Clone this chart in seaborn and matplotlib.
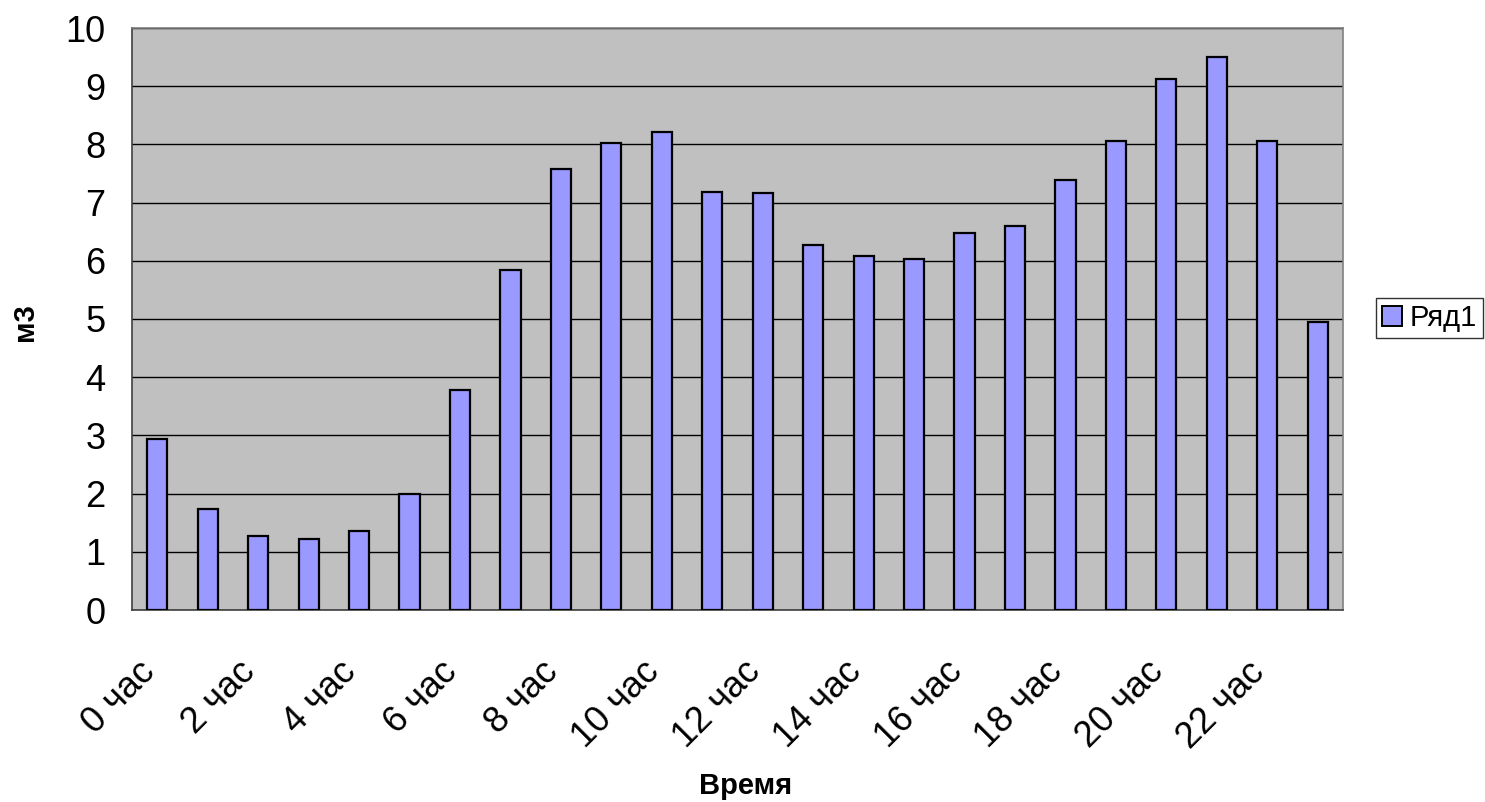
import matplotlib
matplotlib.use("Agg")
import matplotlib.pyplot as plt
import matplotlib.transforms as mtransforms
import seaborn as sns
import pandas as pd
import numpy as np
from matplotlib.patches import Patch

hours = [f"{h} час" for h in range(24)]
values = [2.93, 1.74, 1.27, 1.22, 1.35, 1.99, 3.78, 5.84,
          7.57, 8.03, 8.22, 7.19, 7.17, 6.27, 6.09, 6.03,
          6.47, 6.59, 7.39, 8.05, 9.13, 9.51, 8.05, 4.95]
series_name = "Ряд1"
x_title = "Время"
y_title = "м3"

sns.set_style("white")
plt.rcParams['font.family'] = ['Liberation Sans', 'DejaVu Sans']
plt.rcParams.update({"text.color": "black", "axes.labelcolor": "black",
                     "xtick.color": "black", "ytick.color": "black"})

df = pd.DataFrame({"hour": hours, "value": values})

fig = plt.figure(figsize=(14.85, 8.02), dpi=100)
ax = fig.add_axes([132/1485, 1-610/802, (1343-132)/1485, (610-28)/802])
ax.set_facecolor("#C0C0C0")

sns.barplot(data=df, x="hour", y="value", ax=ax, color="#9999FF",
            saturation=1, width=0.4, edgecolor="black", linewidth=1.6, zorder=3)

ax.set_ylim(0, 10)
ax.set_xlim(-0.5, 23.5)
ax.set_yticks(range(0, 11))
ax.yaxis.grid(True, color="black", linewidth=1.0, zorder=0)
ax.set_axisbelow(True)

# x ticks: labels at even categories, tick marks at category boundaries
ax.set_xticks(range(0, 24, 2))
ax.set_xticklabels([hours[i] for i in range(0, 24, 2)], rotation=45,
                   ha="right", va="center", rotation_mode="anchor")
ax.set_xticks(np.arange(-0.5, 24, 1), minor=True)
ax.tick_params(axis="x", which="major", length=0, pad=41, labelsize=26)
ax.tick_params(axis="x", which="minor", length=8, width=1, color="black", direction="out")
ax.tick_params(axis="y", which="major", length=8, width=1, color="black",
               direction="out", labelsize=26, pad=11)
offset = mtransforms.ScaledTranslation(-8/100, 0, fig.dpi_scale_trans)
for lbl in ax.get_xticklabels():
    lbl.set_transform(lbl.get_transform() + offset)

for s in ["top", "right"]:
    ax.spines[s].set_color("#808080")
    ax.spines[s].set_linewidth(1.2)
for s in ["left", "bottom"]:
    ax.spines[s].set_color("#404040")
    ax.spines[s].set_linewidth(1.2)

ax.set_xlabel("")
ax.set_ylabel("")
fig.text(746/1485, 1-786/802, x_title, ha="center", va="center",
         fontsize=21, fontweight="bold")
fig.text(25/1485, 1-322/802, y_title, ha="center", va="center",
         fontsize=21, fontweight="bold", rotation=90)

handle = Patch(facecolor="#9999FF", edgecolor="black", linewidth=1.4)
leg = fig.legend([handle], [series_name], loc="center left",
                 bbox_to_anchor=(1376/1485, 1-318/802), fontsize=21,
                 frameon=True, fancybox=False, handlelength=0.7, handleheight=0.7,
                 handletextpad=0.25, borderpad=0.2, borderaxespad=0)
leg.get_frame().set_edgecolor("black")
leg.get_frame().set_linewidth(1.0)

fig.savefig("out.png", dpi=100)
